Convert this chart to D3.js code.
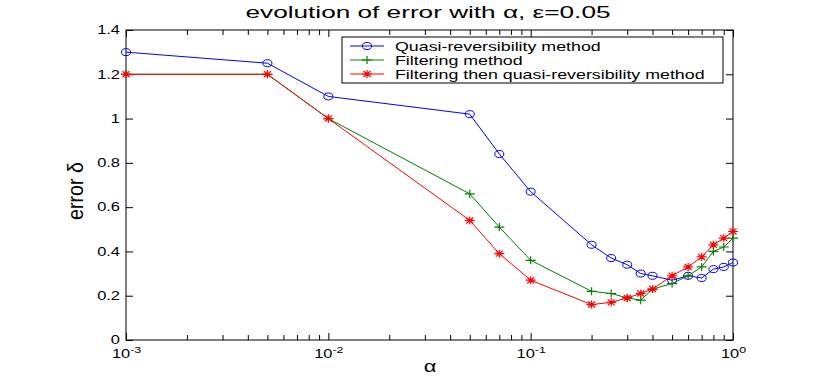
<!DOCTYPE html>
<html>
<head>
<meta charset="utf-8">
<script src="https://cdn.jsdelivr.net/npm/d3@7"></script>
<style>
  body { margin: 0; background: #fff; }
  text { font-family: Arial, "Liberation Sans", sans-serif; fill: #000; }
</style>
</head>
<body>
<svg id="chart" width="830" height="382"></svg>
<script>
// values
var alphas    = [0.001, 0.005, 0.01, 0.05, 0.07, 0.1, 0.2, 0.25, 0.3, 0.35, 0.4, 0.5, 0.6, 0.7, 0.8, 0.9, 1];
var quasi     = [1.30, 1.25, 1.10, 1.02, 0.84, 0.67, 0.43, 0.37, 0.34, 0.30, 0.29, 0.27, 0.29, 0.28, 0.32, 0.33, 0.35];
var filtering = [1.20, 1.20, 1.00, 0.66, 0.51, 0.36, 0.22, 0.21, 0.19, 0.18, 0.23, 0.255, 0.29, 0.33, 0.40, 0.42, 0.46];
var filtQuasi = [1.20, 1.20, 1.00, 0.54, 0.39, 0.27, 0.16, 0.17, 0.19, 0.21, 0.23, 0.29, 0.33, 0.375, 0.43, 0.46, 0.49];

var seriesNames = ["Quasi-reversibility method", "Filtering method", "Filtering then quasi-reversibility method"];
var yTicks = [0, 0.2, 0.4, 0.6, 0.8, 1, 1.2, 1.4];
var yTickLabels = ["0", "0.2", "0.4", "0.6", "0.8", "1", "1.2", "1.4"];
var xTicks = [0.001, 0.01, 0.1, 1];
var xTickExps = ["-3", "-2", "-1", "0"];

var margin = {top: 30, right: 97, bottom: 42, left: 126},
    width = 830 - margin.left - margin.right,
    height = 382 - margin.top - margin.bottom,
    sx = 1.37; // the figure's text is stretched sideways

var svg = d3.select("#chart");
var g = svg.append("g")
    .attr("transform", "translate(" + margin.left + "," + margin.top + ")");

var x = d3.scaleLog().domain([0.001, 1]).range([0, width]);
var y = d3.scaleLinear().domain([0, 1.4]).range([height, 0]);

var minor = x.ticks().filter(function(v) { return xTicks.indexOf(v) < 0; });

function noDomain(sel) { sel.select(".domain").remove(); }

// minor ticks, bottom and top
g.append("g").attr("transform", "translate(0," + height + ")")
    .call(d3.axisBottom(x).tickValues(minor).tickSizeInner(-5).tickSizeOuter(0).tickFormat(""))
    .call(noDomain);
g.append("g")
    .call(d3.axisTop(x).tickValues(minor).tickSizeInner(-5).tickSizeOuter(0).tickFormat(""))
    .call(noDomain);

// major x ticks
var xAxis = g.append("g").attr("transform", "translate(0," + height + ")")
    .call(d3.axisBottom(x).tickValues(xTicks).tickSizeInner(-7).tickSizeOuter(0).tickPadding(9).tickFormat(""))
    .call(noDomain);
xAxis.selectAll(".tick text")
    .style("font-size", "12px")
    .attr("transform", "scale(" + sx + ",1)")
    .each(function(d, i) {
        var t = d3.select(this);
        t.append("tspan").text("10");
        t.append("tspan").attr("dy", "-0.55em").style("font-size", "9px").text(xTickExps[i]);
    });
g.append("g")
    .call(d3.axisTop(x).tickValues(xTicks).tickSizeInner(-7).tickSizeOuter(0).tickFormat(""))
    .call(noDomain);

// y ticks, left and right
var yAxis = g.append("g")
    .call(d3.axisLeft(y).tickValues(yTicks).tickSizeInner(-7).tickSizeOuter(0).tickPadding(6)
        .tickFormat(function(d, i) { return yTickLabels[i]; }))
    .call(noDomain);
yAxis.selectAll(".tick text")
    .style("font-size", "12px")
    .attr("x", -6 / sx)
    .attr("transform", "scale(" + sx + ",1)");
g.append("g").attr("transform", "translate(" + width + ",0)")
    .call(d3.axisRight(y).tickValues(yTicks).tickSizeInner(-7).tickSizeOuter(0).tickFormat(""))
    .call(noDomain);

g.selectAll(".tick line").attr("stroke", "#000");

// frame
g.append("rect")
    .attr("width", width).attr("height", height)
    .attr("fill", "none").attr("stroke", "#000").attr("stroke-width", 1);

// series
var series = [
  {name: seriesNames[0], values: quasi,     color: "#0000ff", marker: "circle"},
  {name: seriesNames[1], values: filtering, color: "#008000", marker: "plus"},
  {name: seriesNames[2], values: filtQuasi, color: "#ff0000", marker: "star"}
];

var line = d3.line()
    .x(function(d) { return x(d[0]); })
    .y(function(d) { return y(d[1]); });

var plusPath = "M-5,0H5M0,-4V4";
var starPath = "M-5,0H5M0,-4V4M-3.5,-3L3.5,3M-3.5,3L3.5,-3";

function drawMarker(sel, kind, color) {
  if (kind == "circle") {
    sel.append("ellipse").attr("rx", 4.5).attr("ry", 3.5)
        .attr("fill", "none").attr("stroke", color).attr("stroke-width", 1);
  } else {
    sel.append("path").attr("d", kind == "plus" ? plusPath : starPath)
        .attr("fill", "none").attr("stroke", color).attr("stroke-width", 1.2);
  }
}

series.forEach(function(s) {
  var pts = alphas.map(function(a, i) { return [a, s.values[i]]; });
  g.append("path")
      .datum(pts)
      .attr("fill", "none")
      .attr("stroke", s.color)
      .attr("stroke-width", 1)
      .attr("d", line);
  g.selectAll(null)
      .data(pts)
    .enter().append("g")
      .attr("transform", function(d) { return "translate(" + x(d[0]) + "," + y(d[1]) + ")"; })
      .each(function() { drawMarker(d3.select(this), s.marker, s.color); });
});

// legend
var legend = svg.append("g");
legend.append("rect")
    .attr("x", 342).attr("y", 37).attr("width", 381).attr("height", 46)
    .attr("fill", "#fff").attr("stroke", "#000").attr("stroke-width", 1);
series.forEach(function(s, i) {
  var ly = 46 + i * 14;
  legend.append("line")
      .attr("x1", 350).attr("x2", 384).attr("y1", ly).attr("y2", ly)
      .attr("stroke", s.color).attr("stroke-width", 1);
  legend.append("g").attr("transform", "translate(367," + ly + ")")
      .call(function(sel) { drawMarker(sel, s.marker, s.color); });
  legend.append("text")
      .attr("transform", "translate(395," + ly + ") scale(" + sx + ",1)")
      .attr("dy", "0.36em")
      .style("font-size", "13px")
      .text(s.name);
});

// title and axis labels
svg.append("text")
    .attr("x", 428).attr("y", 18)
    .attr("text-anchor", "middle")
    .attr("textLength", 365).attr("lengthAdjust", "spacingAndGlyphs")
    .style("font-size", "16px")
    .text("evolution of error with \u03b1, \u03b5=0.05");

svg.append("text")
    .attr("transform", "translate(430,372) scale(" + sx + ",1)")
    .attr("text-anchor", "middle")
    .style("font-size", "16px")
    .text("\u03b1");

svg.append("text")
    .attr("transform", "translate(83,191) scale(" + sx + ",1) rotate(-90)")
    .attr("text-anchor", "middle")
    .attr("textLength", 58).attr("lengthAdjust", "spacingAndGlyphs")
    .style("font-size", "16px")
    .text("error \u03b4");
</script>
</body>
</html>
